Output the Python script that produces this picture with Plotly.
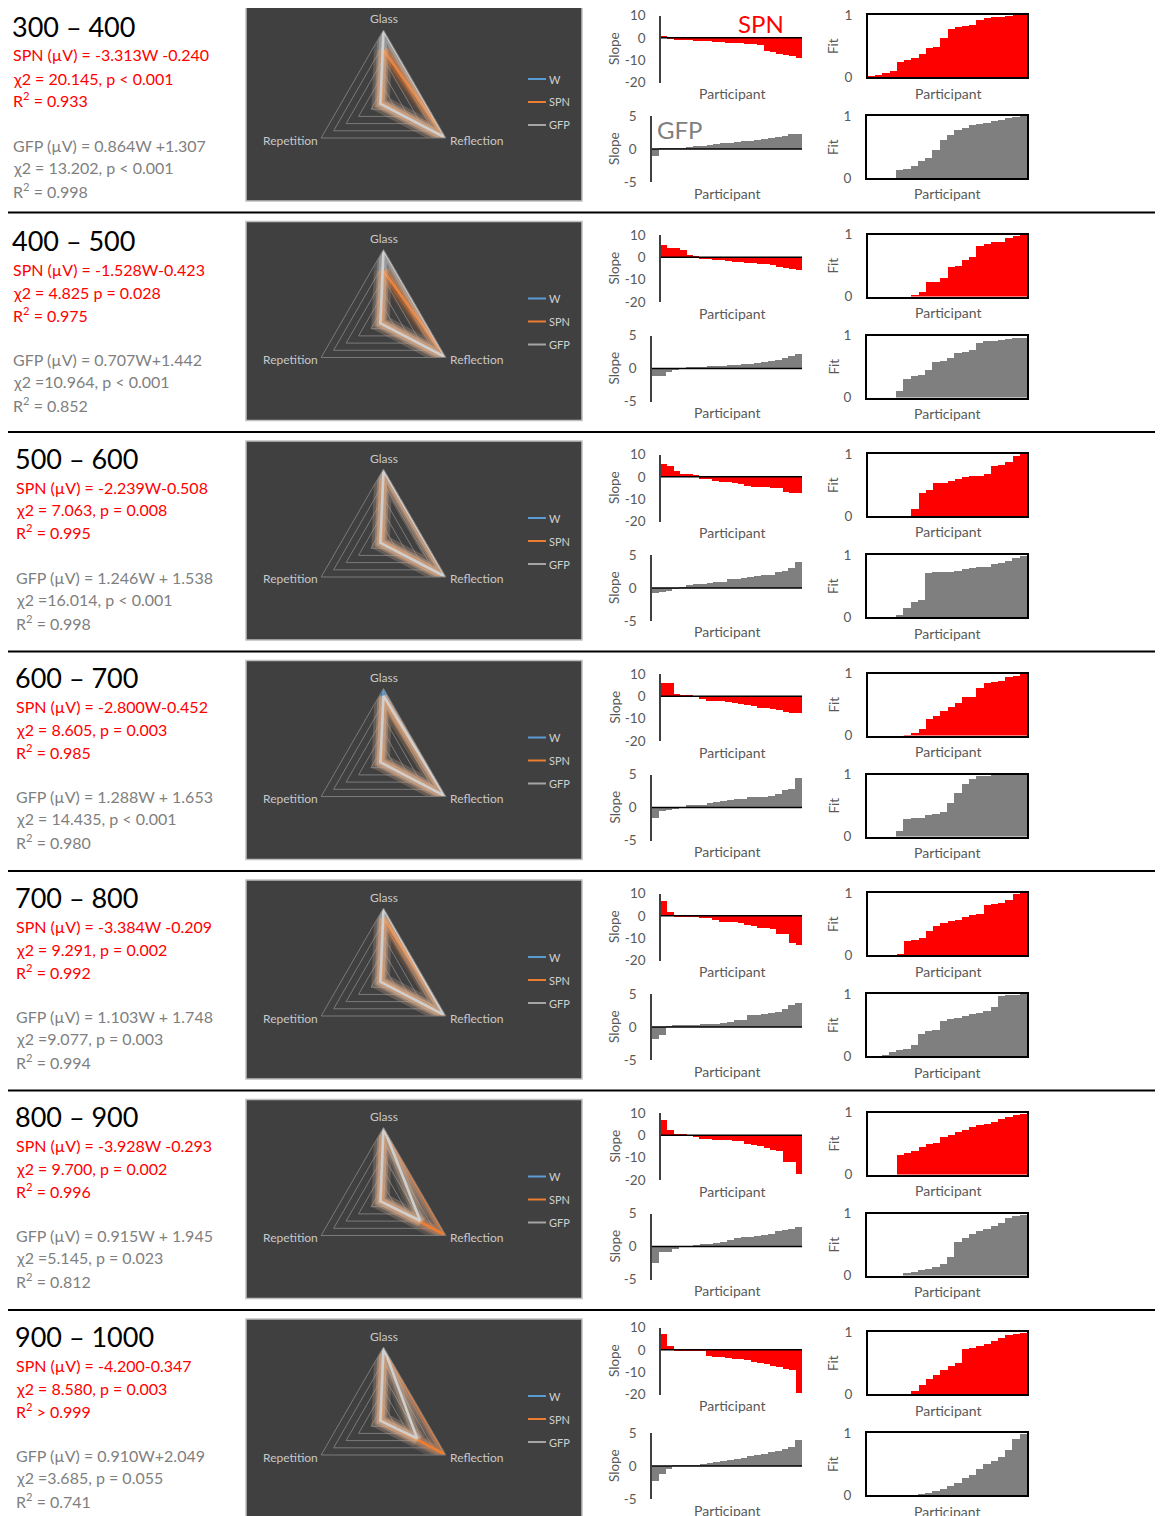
import plotly.graph_objects as go

# ---------------- DATA ----------------
windows = ["300 – 400", "400 – 500", "500 – 600", "600 – 700", "700 – 800", "800 – 900", "900 – 1000"]
spn_eq = ["SPN (µV) = -3.313W -0.240", "SPN (µV) = -1.528W-0.423", "SPN (µV) = -2.239W-0.508",
          "SPN (µV) = -2.800W-0.452", "SPN (µV) = -3.384W -0.209", "SPN (µV) = -3.928W -0.293",
          "SPN (µV) = -4.200-0.347"]
spn_chi = ["χ2 = 20.145, p < 0.001", "χ2 = 4.825 p = 0.028", "χ2 = 7.063, p = 0.008",
           "χ2 = 8.605, p = 0.003", "χ2 = 9.291, p = 0.002", "χ2 = 9.700, p = 0.002",
           "χ2 = 8.580, p = 0.003"]
spn_r2 = ["R<sup>2</sup> = 0.933", "R<sup>2</sup> = 0.975", "R<sup>2</sup> = 0.995", "R<sup>2</sup> = 0.985",
          "R<sup>2</sup> = 0.992", "R<sup>2</sup> = 0.996", "R<sup>2</sup> > 0.999"]
gfp_eq = ["GFP (µV) = 0.864W +1.307", "GFP (µV) = 0.707W+1.442", "GFP (µV) = 1.246W + 1.538",
          "GFP (µV) = 1.288W + 1.653", "GFP (µV) = 1.103W + 1.748", "GFP (µV) = 0.915W + 1.945",
          "GFP (µV) = 0.910W+2.049"]
gfp_chi = ["χ2 = 13.202, p < 0.001", "χ2 =10.964, p < 0.001", "χ2 =16.014, p < 0.001",
           "χ2 = 14.435, p < 0.001", "χ2 =9.077, p = 0.003", "χ2 =5.145, p = 0.023",
           "χ2 =3.685, p = 0.055"]
gfp_r2 = ["R<sup>2</sup> = 0.998", "R<sup>2</sup> = 0.852", "R<sup>2</sup> = 0.998", "R<sup>2</sup> = 0.980",
          "R<sup>2</sup> = 0.994", "R<sup>2</sup> = 0.812", "R<sup>2</sup> = 0.741"]

participants = list(range(1, 23))

spn_slope_ticks = [-20, -10, 0, 10]
spn_slope_ticktext = ["-20", "-10", "0", "10"]
gfp_slope_ticks = [-5, 0, 5]
gfp_slope_ticktext = ["-5", "0", "5"]
fit_ticks = [0, 1]
fit_ticktext = ["0", "1"]

spn_slope = [
    [1.0, -0.2, -0.4, -0.6, -0.8, -1.0, -1.2, -1.4, -1.6, -1.8, -2.0, -2.1, -2.3, -2.5, -2.7, -3.0, -5.8, -6.3, -6.8, -7.4, -8.0, -8.8],
    [5.5, 4.1, 4.0, 3.3, 0.9, 0.5, -0.5, -0.8, -1.1, -1.4, -1.6, -1.9, -2.2, -2.5, -2.7, -2.9, -3.1, -3.3, -4.2, -4.6, -5.4, -5.5],
    [6.1, 4.9, 2.7, 1.6, 1.5, 1.0, -0.5, -0.9, -1.5, -2.1, -2.3, -2.5, -3.0, -4.0, -4.2, -4.4, -4.5, -4.6, -4.9, -6.4, -6.8, -6.9],
    [6.0, 6.0, 1.0, 0.7, 0.4, -0.2, -1.2, -2.0, -2.1, -2.3, -2.5, -3.2, -3.5, -4.0, -4.4, -5.0, -5.3, -5.5, -6.0, -7.0, -7.3, -7.5],
    [6.7, 1.9, 0.5, 0.3, 0.1, -0.1, -0.5, -0.9, -1.5, -2.5, -2.6, -2.7, -3.0, -4.0, -4.2, -5.3, -5.4, -5.5, -7.8, -8.0, -12.0, -12.8],
    [7.0, 2.2, 0.3, 0.2, -0.3, -0.8, -1.5, -1.7, -1.9, -2.0, -2.2, -2.5, -2.7, -3.8, -4.2, -4.8, -5.5, -6.5, -7.2, -11.8, -11.8, -17.5],
    [7.3, 1.8, 0.6, 0.4, 0.3, 0.1, -0.3, -2.6, -2.8, -3.0, -3.3, -3.7, -4.0, -4.5, -5.0, -5.5, -6.0, -6.8, -7.5, -8.3, -9.0, -19.0],
]
spn_fit = [
    [0.005, 0.02, 0.07, 0.1, 0.24, 0.28, 0.31, 0.37, 0.47, 0.49, 0.63, 0.78, 0.8, 0.83, 0.84, 0.92, 0.95, 0.96, 0.97, 0.98, 1.0, 1.0],
    [0, 0, 0, 0, 0, 0, 0.03, 0.08, 0.24, 0.25, 0.3, 0.49, 0.5, 0.6, 0.65, 0.83, 0.85, 0.88, 0.89, 0.95, 0.98, 1.0],
    [0, 0, 0, 0, 0, 0, 0.11, 0.37, 0.42, 0.53, 0.54, 0.57, 0.6, 0.63, 0.64, 0.64, 0.67, 0.81, 0.82, 0.87, 0.97, 1.0],
    [0, 0, 0, 0, 0, 0.01, 0.05, 0.11, 0.27, 0.32, 0.41, 0.46, 0.53, 0.63, 0.63, 0.78, 0.86, 0.87, 0.88, 0.95, 0.97, 1.0],
    [0, 0, 0, 0, 0.01, 0.23, 0.25, 0.27, 0.39, 0.46, 0.52, 0.55, 0.57, 0.61, 0.65, 0.66, 0.8, 0.82, 0.84, 0.89, 0.99, 1.0],
    [0, 0, 0, 0, 0.33, 0.35, 0.38, 0.45, 0.5, 0.52, 0.62, 0.65, 0.7, 0.72, 0.78, 0.8, 0.82, 0.85, 0.9, 0.93, 0.96, 0.98],
    [0, 0, 0, 0, 0, 0, 0.05, 0.15, 0.25, 0.3, 0.38, 0.45, 0.5, 0.72, 0.75, 0.78, 0.8, 0.86, 0.9, 0.95, 0.97, 0.98],
]
gfp_slope = [
    [-1.1, 0.02, 0.05, 0.08, 0.12, 0.3, 0.4, 0.5, 0.6, 0.75, 0.85, 0.95, 1.1, 1.15, 1.25, 1.4, 1.55, 1.7, 1.8, 1.9, 2.3, 2.3],
    [-1.1, -1.0, -0.5, -0.1, 0.1, 0.2, 0.3, 0.35, 0.4, 0.45, 0.5, 0.55, 0.6, 0.7, 0.8, 0.9, 1.0, 1.2, 1.4, 1.6, 1.9, 2.3],
    [-0.8, -0.6, -0.4, -0.1, 0.05, 0.5, 0.55, 0.65, 0.75, 0.85, 0.95, 1.3, 1.4, 1.5, 1.7, 1.8, 1.9, 2.0, 2.4, 2.6, 3.0, 4.0],
    [-1.5, -0.4, -0.2, -0.1, 0.0, 0.4, 0.45, 0.5, 0.7, 0.9, 1.1, 1.2, 1.3, 1.4, 1.6, 1.6, 1.7, 1.8, 2.1, 2.8, 2.9, 4.5],
    [-1.8, -1.2, 0.15, 0.2, 0.25, 0.3, 0.3, 0.4, 0.45, 0.5, 0.6, 0.8, 1.1, 1.1, 1.8, 1.8, 2.0, 2.1, 2.2, 2.7, 3.4, 3.6],
    [-2.4, -0.8, -0.8, -0.3, 0.05, 0.15, 0.2, 0.4, 0.45, 0.55, 0.7, 1.0, 1.3, 1.5, 1.55, 1.7, 1.8, 2.0, 2.5, 2.55, 2.8, 3.0],
    [-2.3, -1.2, -0.4, 0.05, 0.08, 0.1, 0.12, 0.2, 0.4, 0.6, 0.8, 0.9, 1.0, 1.2, 1.5, 1.6, 1.8, 2.1, 2.3, 2.6, 2.9, 4.0],
]
gfp_fit = [
    [0, 0, 0, 0, 0.13, 0.15, 0.19, 0.27, 0.33, 0.45, 0.62, 0.7, 0.78, 0.8, 0.85, 0.87, 0.89, 0.92, 0.94, 0.97, 0.99, 1.0],
    [0, 0, 0, 0, 0.12, 0.3, 0.35, 0.37, 0.45, 0.58, 0.6, 0.64, 0.73, 0.75, 0.77, 0.88, 0.92, 0.92, 0.93, 0.95, 0.97, 0.97],
    [0, 0, 0, 0, 0.03, 0.15, 0.24, 0.27, 0.71, 0.72, 0.72, 0.72, 0.75, 0.78, 0.79, 0.8, 0.81, 0.85, 0.87, 0.9, 0.95, 0.98],
    [0, 0, 0, 0, 0.09, 0.29, 0.3, 0.31, 0.35, 0.37, 0.41, 0.55, 0.71, 0.85, 0.93, 0.98, 0.99, 1.0, 1.0, 1.0, 1.0, 1.0],
    [0, 0, 0.01, 0.07, 0.09, 0.11, 0.18, 0.35, 0.4, 0.42, 0.56, 0.6, 0.62, 0.64, 0.68, 0.7, 0.73, 0.79, 0.97, 0.98, 0.99, 1.0],
    [0, 0, 0, 0, 0, 0.05, 0.07, 0.09, 0.12, 0.15, 0.2, 0.3, 0.55, 0.62, 0.68, 0.72, 0.76, 0.8, 0.86, 0.93, 0.97, 0.99],
    [0, 0, 0, 0, 0, 0, 0, 0.01, 0.03, 0.06, 0.1, 0.14, 0.2, 0.28, 0.33, 0.42, 0.5, 0.55, 0.62, 0.72, 0.9, 0.98],
]

radar_categories = ["Glass", "Reflection", "Repetition"]
radar_series = ["W", "SPN", "GFP"]
radar_w = [[1, 1, 0.04]] * 7
radar_spn = [[0.72, 1, 0.04], [0.7, 1, 0.04], [1, 1, 0.04], [0.87, 1, 0.04],
             [0.86, 1, 0.04], [1, 1, 0.04], [1, 1, 0.04]]
radar_gfp = [[1, 1, 0.05], [1, 1, 0.05], [0.98, 1, 0.05], [0.9, 0.98, 0.05],
             [1, 0.97, 0.05], [1, 0.59, 0.05], [1, 0.54, 0.05]]

# ---------------- LAYOUT HELPERS ----------------
PAGE_W, PAGE_H = 1163, 1516
BODY = 8                         # browser default body margin
FW, FH = PAGE_W - BODY, PAGE_H - BODY
FONT = "Lato, 'Open Sans', sans-serif"
ROW0, PITCH = 2, 219.5
RED, GREY, AX = "#ff0000", "#7f7f7f", "#595959"
text_x = [12, 12, 15, 15, 15, 15, 15]
text_shift = [7, 2, 0, 0, 0, 0, 0]
spn_slope_shift = [0, 0, 0, 0, 0, 0, -5]


def fx(x):
    return (x - BODY) / FW


def fy(y):
    return 1 - (y - BODY) / FH


fig = go.Figure()
annotations, shapes = [], []
layout = {}


def ann(text, x, y, size, color, xanchor="left", angle=0):
    annotations.append(dict(text=text, x=fx(x), y=fy(y), xref="paper", yref="paper",
                            xanchor=xanchor, yanchor="middle", showarrow=False, textangle=angle,
                            font=dict(family=FONT, size=size, color=color)))


series_style = {
    "W": dict(core="#5b9bd5", glow=(91, 155, 213)),
    "SPN": dict(core="#ed7d31", glow=(237, 125, 49)),
    "GFP": dict(core="#cfcfcf", glow=(225, 190, 160)),
}
legend_colors = {"W": "#5b9bd5", "SPN": "#ed7d31", "GFP": "#a5a5a5"}

for r in range(7):
    T = ROW0 + PITCH * r
    # ---- left text ----
    tx, ts = text_x[r], T + text_shift[r]
    ann(windows[r], tx - 2, ts + 17, 27, "#000000")
    ann(spn_eq[r], tx - 1, ts + 46, 16, RED)
    ann(spn_chi[r], tx - 1, ts + 69, 16, RED)
    ann(spn_r2[r], tx - 1, ts + 91, 16, RED)
    ann(gfp_eq[r], tx - 1, ts + 136, 16, GREY)
    ann(gfp_chi[r], tx - 1, ts + 158, 16, GREY)
    ann(gfp_r2[r], tx - 1, ts + 181, 16, GREY)

    # ---- separator ----
    if r < 6:
        shapes.append(dict(type="line", xref="paper", yref="paper", x0=fx(4), x1=fx(1163),
                           y0=fy(T + 210.5), y1=fy(T + 210.5), line=dict(color="#000000", width=2)))

    # ---- radar panel ----
    shapes.append(dict(type="rect", xref="paper", yref="paper", x0=fx(246), x1=fx(582),
                       y0=fy(T), y1=fy(T + 199), fillcolor="#404040",
                       line=dict(color="#bfbfbf", width=1.5), layer="below"))
    pname = "polar" if r == 0 else f"polar{r + 1}"
    cx, cy, R = 383.5, T + 100, 72
    layout[pname] = dict(
        domain=dict(x=[fx(cx - R), fx(cx + R)], y=[fy(cy + R), fy(cy - R)]),
        bgcolor="rgba(0,0,0,0)", gridshape="linear",
        radialaxis=dict(range=[0, 1], tickvals=[0.2, 0.4, 0.6, 0.8, 1.0], showticklabels=False,
                        ticks="", showline=False, gridcolor="#7a7a7a", gridwidth=1),
        angularaxis=dict(type="category", categoryarray=radar_categories, rotation=90,
                         direction="clockwise", showticklabels=False, ticks="", showgrid=False,
                         showline=True, linecolor="#7a7a7a", linewidth=1),
    )
    vals = {"W": radar_w[r], "SPN": radar_spn[r], "GFP": radar_gfp[r]}
    for s in radar_series:
        v = vals[s]
        rr = list(v) + [v[0]]
        th = radar_categories + [radar_categories[0]]
        g = series_style[s]["glow"]
        for wdt, a in [(18, 0.12), (12, 0.2), (8, 0.32)]:
            fig.add_trace(go.Scatterpolar(r=rr, theta=th, mode="lines", subplot=pname,
                                          line=dict(color=f"rgba({g[0]},{g[1]},{g[2]},{a})", width=wdt),
                                          cliponaxis=False, hoverinfo="skip", showlegend=False))
        fig.add_trace(go.Scatterpolar(r=rr, theta=th, mode="lines", subplot=pname,
                                      line=dict(color=series_style[s]["core"], width=2.6),
                                      cliponaxis=False, name=s, showlegend=False))
    # category labels
    ann(radar_categories[0], cx, T + 17, 12, "#c8c8c8", "center")
    ann(radar_categories[1], 448, T + 138, 12, "#c8c8c8", "left")
    ann(radar_categories[2], 320, T + 138, 12, "#c8c8c8", "right")
    # legend
    for k, s in enumerate(radar_series):
        ly = T + 77 + 23 * k
        shapes.append(dict(type="line", xref="paper", yref="paper", x0=fx(528), x1=fx(546),
                           y0=fy(ly), y1=fy(ly), line=dict(color=legend_colors[s], width=2)))
        ann(s, 547, ly, 11, "#d0d0d0")

    # ---- bar charts ----
    sh = spn_slope_shift[r]
    charts = [
        ("slope", spn_slope[r], RED, [661, 802], [T + 13.5 + sh, T + 80.5 + sh], [-20, 10],
         spn_slope_ticks, spn_slope_ticktext),
        ("fit", spn_fit[r], RED, [868, 1027], [T + 13, T + 75], [0, 1], fit_ticks, fit_ticktext),
        ("slope", gfp_slope[r], GREY, [652, 802], [T + 114, T + 180], [-5, 5],
         gfp_slope_ticks, gfp_slope_ticktext),
        ("fit", gfp_fit[r], GREY, [867, 1027], [T + 114, T + 176], [0, 1], fit_ticks, fit_ticktext),
    ]
    for c, (kind, vals_, col, xd, yd, yr, tv, tt) in enumerate(charts):
        idx = r * 4 + c + 1
        xn = "x" if idx == 1 else f"x{idx}"
        yn = "y" if idx == 1 else f"y{idx}"
        xk = "xaxis" if idx == 1 else f"xaxis{idx}"
        yk = "yaxis" if idx == 1 else f"yaxis{idx}"
        fig.add_trace(go.Bar(x=participants, y=vals_, marker=dict(color=col, line=dict(width=0)),
                             xaxis=xn, yaxis=yn, showlegend=False, hoverinfo="y"))
        if kind == "slope":
            fig.add_trace(go.Scatter(x=[0.5, 22.5], y=[0, 0], mode="lines", xaxis=xn, yaxis=yn,
                                     line=dict(color="#000000", width=1.5), showlegend=False,
                                     hoverinfo="skip"))
            layout[xk] = dict(domain=[fx(xd[0]), fx(xd[1])], anchor=yn, range=[0.5, 22.5],
                              showgrid=False, zeroline=False, showline=False, showticklabels=False,
                              ticks="")
            layout[yk] = dict(domain=[fy(yd[1]), fy(yd[0])], anchor=xn, range=yr, tickvals=tv,
                              ticktext=tt, showgrid=False, zeroline=False, showline=True,
                              linecolor="#404040", linewidth=1.5, ticks="", ticklabelstandoff=11,
                              ticklabeloverflow="allow",
                              tickfont=dict(family=FONT, size=13.5, color=AX))
        else:
            layout[xk] = dict(domain=[fx(xd[0]), fx(xd[1])], anchor=yn, range=[0.5, 22.5],
                              showgrid=False, zeroline=False, showline=True, mirror=True,
                              linecolor="#000000", linewidth=2, showticklabels=False, ticks="",
                              layer="above traces")
            layout[yk] = dict(domain=[fy(yd[1]), fy(yd[0])], anchor=xn, range=yr, tickvals=tv,
                              ticktext=tt, showgrid=False, zeroline=False, showline=True, mirror=True,
                              linecolor="#000000", linewidth=2, ticks="", ticklabelstandoff=11,
                              ticklabeloverflow="allow", layer="above traces",
                              tickfont=dict(family=FONT, size=13.5, color=AX))
        ymid = (yd[0] + yd[1]) / 2
        if kind == "slope":
            ann("Slope", 614, ymid, 13.5, AX, "center", -90)
            ann("Participant", (xd[0] + xd[1]) / 2, yd[1] + 11, 14, AX, "center")
        else:
            ann("Fit", 833, ymid, 13.5, AX, "center", -90)
            ann("Participant", (xd[0] + xd[1]) / 2, yd[1] + 16, 14, AX, "center")

    if r == 0:
        ann("SPN", 761, T + 22, 24, RED, "center")
        ann("GFP", 680, T + 128, 24, GREY, "center")

fig.update_layout(width=FW, height=FH,
                  margin=dict(l=0, r=0, t=0, b=0, pad=0, autoexpand=False),
                  paper_bgcolor="#ffffff", plot_bgcolor="rgba(0,0,0,0)", showlegend=False, bargap=0,
                  annotations=annotations, shapes=shapes, font=dict(family=FONT), **layout)
fig.write_html("out.html")
